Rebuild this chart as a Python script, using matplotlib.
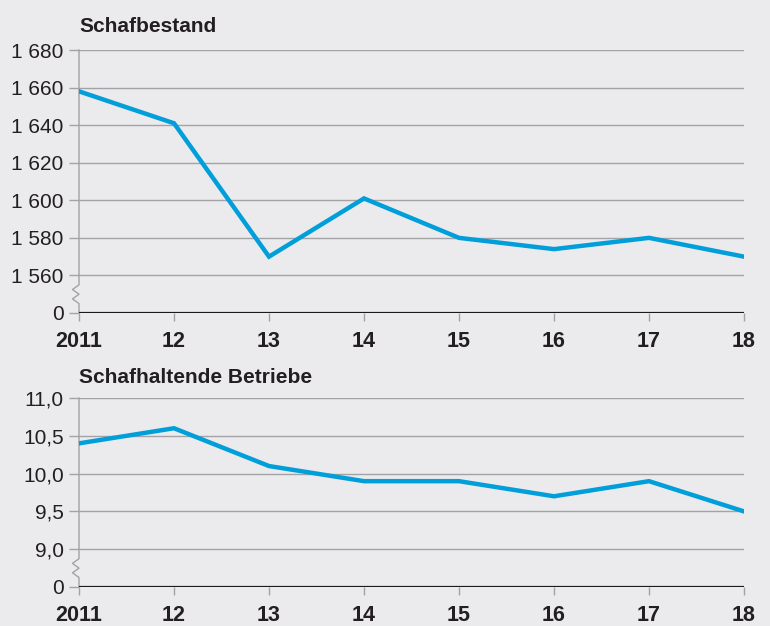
import matplotlib
matplotlib.use("Agg")
import matplotlib.pyplot as plt

years = [2011, 2012, 2013, 2014, 2015, 2016, 2017, 2018]
year_labels = ["2011", "12", "13", "14", "15", "16", "17", "18"]

schafbestand = [1658, 1641, 1570, 1601, 1580, 1574, 1580, 1570]
betriebe = [10.4, 10.6, 10.1, 9.9, 9.9, 9.7, 9.9, 9.5]

top_ticks = [1560, 1580, 1600, 1620, 1640, 1660, 1680]
top_labels = ["1 560", "1 580", "1 600", "1 620", "1 640", "1 660", "1 680"]
bot_ticks = [9.0, 9.5, 10.0, 10.5, 11.0]
bot_labels = ["9,0", "9,5", "10,0", "10,5", "11,0"]

BG = "#ebebee"
LINE = "#009fda"
GRID = "#a3a3a6"
TXT = "#231f20"

plt.rcParams['font.family'] = ['Liberation Sans', 'DejaVu Sans']

fig = plt.figure(figsize=(7.7, 6.26), dpi=100, facecolor=BG)

W, H = 770, 626
def axrect(x0, x1, ytop, ybot):
    return [x0 / W, 1 - ybot / H, (x1 - x0) / W, (ybot - ytop) / H]

def panel(rect, values, ticks, labels, zero_pos, step, title, title_off):
    ax = fig.add_axes(rect)
    ax.set_facecolor(BG)
    ax.set_xlim(years[0], years[-1])
    ax.set_ylim(zero_pos, ticks[-1])
    for s in ax.spines.values():
        s.set_visible(False)
    for t in ticks:
        ax.axhline(t, color=GRID, lw=1.0, zorder=1)
    ax.axhline(zero_pos, color="#1a1a1a", lw=1.6, zorder=3)
    ax.plot(years, values, color=LINE, lw=3.2, zorder=4, solid_joinstyle="miter")
    ax.set_yticks(list(ticks) + [zero_pos])
    ax.set_yticklabels(list(labels) + ["0"], fontsize=15)
    ax.set_xticks(years)
    ax.set_xticklabels(year_labels, fontsize=15.5, fontweight="bold")
    ax.tick_params(axis="y", length=7, width=1, color=GRID, pad=4, labelcolor=TXT)
    ax.tick_params(axis="x", length=6, width=1, color=GRID, pad=7, labelcolor=TXT)
    # left spine with break
    tr = ax.get_yaxis_transform()
    low = ticks[0]
    dx = 6.5 / (rect[2] * W)
    y_start = low - step * 0.25
    y_end = zero_pos + step * 0.25
    h = (y_start - y_end)
    xs = [0, 0, -dx, 0, -dx, 0, 0]
    ys = [ticks[-1], y_start, y_start - h * 0.25, y_start - h * 0.5,
          y_start - h * 0.75, y_end, zero_pos]
    ax.plot(xs, ys, color=GRID, lw=1.0, transform=tr, clip_on=False, zorder=2)
    ax.text(0.0, 1.0 + title_off / (rect[3] * H), title, transform=ax.transAxes,
            fontsize=15, fontweight="bold", ha="left", va="baseline", color=TXT)
    return ax

panel(axrect(79, 744, 50, 313), schafbestand, top_ticks, top_labels, 1540, 20, "Schafbestand", 18)
panel(axrect(79, 744, 398, 587), betriebe, bot_ticks, bot_labels, 8.5, 0.5, "Schafhaltende Betriebe", 15)

fig.savefig("out.png", dpi=100, facecolor=BG)
